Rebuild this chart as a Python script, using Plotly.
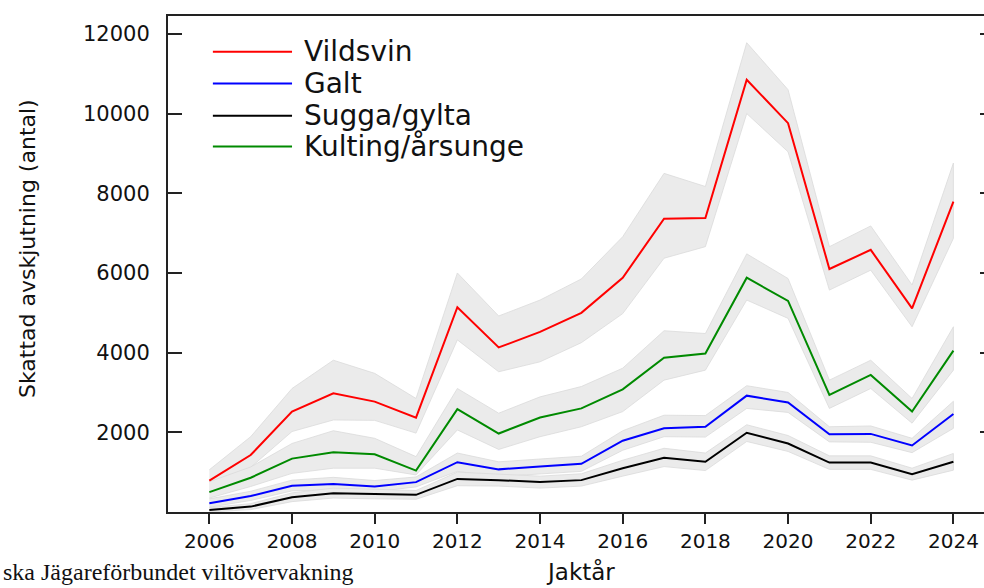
import plotly.graph_objects as go

years = [2006, 2007, 2008, 2009, 2010, 2011, 2012, 2013, 2014, 2015,
         2016, 2017, 2018, 2019, 2020, 2021, 2022, 2023, 2024]

vildsvin = [790, 1430, 2520, 2980, 2770, 2370, 5140, 4130, 4520, 5000,
            5880, 7360, 7380, 10850, 9760, 6100, 6580, 5110, 7790]
vildsvin_hi = [1060, 1890, 3100, 3810, 3480, 2850, 6000, 4920, 5320, 5850,
               6910, 8500, 8170, 11780, 10600, 6660, 7180, 5700, 8760]
vildsvin_lo = [540, 1120, 2020, 2310, 2300, 1980, 4320, 3520, 3770, 4250,
               4980, 6370, 6660, 10000, 9040, 5570, 6070, 4650, 6870]

galt = [220, 400, 660, 700, 640, 750, 1250, 1070, 1140, 1210,
        1790, 2100, 2140, 2920, 2750, 1950, 1960, 1670, 2460]
galt_hi = [330, 520, 800, 870, 790, 880, 1480, 1260, 1330, 1400,
           2040, 2430, 2420, 3170, 3000, 2140, 2160, 1850, 2780]
galt_lo = [120, 290, 530, 560, 510, 630, 1020, 890, 960, 1020,
           1550, 1890, 1880, 2600, 2500, 1760, 1750, 1490, 2100]

sugga = [50, 135, 370, 470, 450, 430, 830, 800, 750, 800,
         1100, 1360, 1260, 1990, 1720, 1240, 1240, 950, 1260]
sugga_hi = [110, 210, 480, 600, 570, 540, 1000, 950, 900, 960,
            1300, 1600, 1480, 2190, 1920, 1410, 1410, 1100, 1470]
sugga_lo = [0, 60, 260, 350, 330, 320, 660, 650, 600, 650,
            900, 1140, 1040, 1770, 1520, 1070, 1070, 800, 1050]

kulting = [500, 860, 1340, 1500, 1450, 1040, 2580, 1970, 2370, 2600,
           3080, 3870, 3980, 5880, 5300, 2940, 3440, 2520, 4050]
kulting_hi = [760, 1130, 1720, 2040, 1850, 1390, 3100, 2480, 2890, 3150,
              3610, 4550, 4480, 6480, 5860, 3310, 3810, 2850, 4650]
kulting_lo = [350, 640, 970, 1100, 1100, 930, 2060, 1570, 1890, 2140,
              2520, 3310, 3560, 5320, 4860, 2600, 3100, 2230, 3560]

series_names = ["Vildsvin", "Galt", "Sugga/gylta", "Kulting/årsunge"]
x_ticks = [2006, 2008, 2010, 2012, 2014, 2016, 2018, 2020, 2022, 2024]
y_ticks = [2000, 4000, 6000, 8000, 10000, 12000]

series = [
    (series_names[0], vildsvin, vildsvin_hi, vildsvin_lo, "#ff0000"),
    (series_names[1], galt, galt_hi, galt_lo, "#0000ff"),
    (series_names[2], sugga, sugga_hi, sugga_lo, "#000000"),
    (series_names[3], kulting, kulting_hi, kulting_lo, "#008a00"),
]

fig = go.Figure()

for name, vals, hi, lo, col in series:
    fig.add_trace(go.Scatter(
        x=years + years[::-1], y=hi + lo[::-1],
        fill="toself", fillcolor="#ebebeb",
        line=dict(color="#dadada", width=0.8),
        mode="lines", hoverinfo="skip", showlegend=False))

for name, vals, hi, lo, col in series:
    fig.add_trace(go.Scatter(
        x=years, y=vals, mode="lines", name=name,
        line=dict(color=col, width=2), showlegend=False))

# invisible trace to host the right-hand tick axis
fig.add_trace(go.Scatter(x=[years[0]], y=[vildsvin[0]], yaxis="y2",
                         mode="markers", marker=dict(opacity=0),
                         hoverinfo="skip", showlegend=False))

FONT = "DejaVu Sans"

# manual legend (long line samples like the reference)
leg_y = [0.928, 0.864, 0.799, 0.737]
for (name, vals, hi, lo, col), ly in zip(series, leg_y):
    fig.add_shape(type="line", xref="paper", yref="paper",
                  x0=0.055, x1=0.152, y0=ly, y1=ly,
                  line=dict(color=col, width=2))
    fig.add_annotation(xref="paper", yref="paper", x=0.164, y=ly,
                       xanchor="left", yanchor="middle", text=name,
                       showarrow=False,
                       font=dict(family=FONT, size=28, color="#111"))

# axis titles
fig.add_annotation(xref="paper", yref="paper", x=-0.173, y=0.532,
                   text="Skattad avskjutning (antal)", textangle=-90,
                   showarrow=False, xanchor="center", yanchor="middle",
                   font=dict(family=FONT, size=22, color="#111"))
fig.add_annotation(xref="paper", yref="paper", x=0.506, y=-0.151,
                   text="Jaktår", showarrow=False,
                   xanchor="center", yanchor="bottom",
                   font=dict(family=FONT, size=23, color="#111"))
# source caption (cropped at the left in the reference)
fig.add_annotation(xref="paper", yref="paper", x=-0.205, y=-0.152,
                   text="ska Jägareförbundet viltövervakning", showarrow=False,
                   xanchor="left", yanchor="bottom",
                   font=dict(family="Liberation Serif", size=24, color="#111"))

fig.update_layout(
    width=984, height=588,
    margin=dict(l=168, r=0, t=16, b=76),
    plot_bgcolor="white", paper_bgcolor="white",
    font=dict(family=FONT, color="#111"),
    xaxis=dict(range=[2005, 2024.74], tickvals=x_ticks,
               showline=True, linecolor="#222", linewidth=2, mirror=True,
               ticks="outside", ticklen=10, tickwidth=2, tickcolor="#222",
               showgrid=False, zeroline=False,
               tickfont=dict(family=FONT, size=20, color="#111")),
    yaxis=dict(range=[0, 12450], tickvals=y_ticks, tickformat="d",
               showline=True, linecolor="#222", linewidth=2,
               ticks="inside", ticklen=14, tickwidth=2, tickcolor="#222",
               ticklabelstandoff=12,
               showgrid=False, zeroline=False,
               tickfont=dict(family=FONT, size=21, color="#111")),
    yaxis2=dict(range=[0, 12450], tickvals=y_ticks, overlaying="y",
                side="right", showline=False, showticklabels=False,
                ticks="inside", ticklen=4, tickwidth=2, tickcolor="#222",
                showgrid=False, zeroline=False),
)

fig.write_html("out.html", config={"displayModeBar": False},
               post_script="document.body.style.margin='0px';")
